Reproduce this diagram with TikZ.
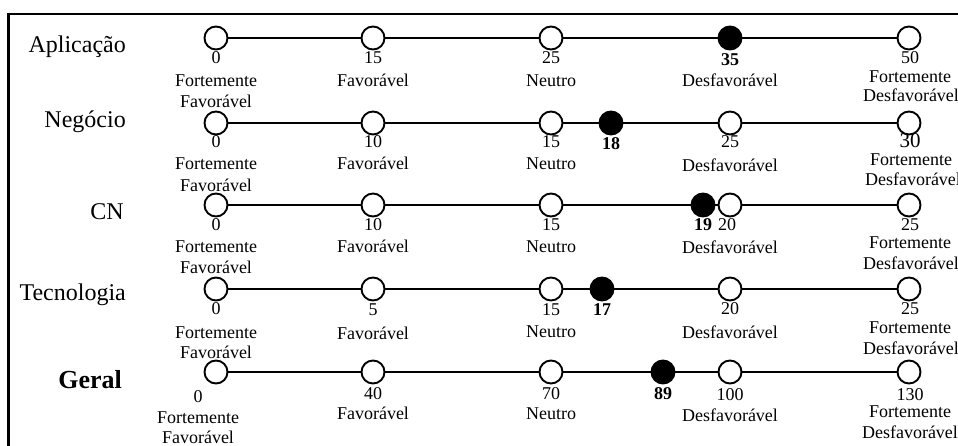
\documentclass[tikz,border=0pt]{standalone}
\usepackage{fontspec}
\setmainfont{Liberation Serif}
\begin{document}
\begin{tikzpicture}[x=1pt,y=-1pt,
  pt/.style={circle, draw, line width=1.9pt, minimum size=23pt, inner sep=0pt, fill=white},
  hit/.style={pt, fill=black},
  conn/.style={line width=2.1pt},
  lab/.style={font=\fontsize{18}{18}\selectfont, anchor=base, inner sep=0pt},
  blab/.style={lab, font=\fontsize{18}{18}\selectfont\bfseries},
  rowlab/.style={font=\fontsize{24}{24}\selectfont, anchor=base east, inner sep=0pt},
  frame/.style={line width=2.2pt}]
\clip (0,0) rectangle (958,446);
\fill[white] (0,0) rectangle (958,446);
% frame
\coordinate (fb) at (8.5,470);
\coordinate (ftl) at (8.5,14);
\coordinate (fr) at (980,14);
\draw[frame] (fb) -- (ftl) -- (fr);

% row labels
\node[rowlab] (lA) at (126,53) {Aplicação};
\node[rowlab] (lN) at (126,128) {Negócio};
\node[rowlab] (lC) at (124,220) {CN};
\node[rowlab] (lT) at (126,301) {Tecnologia};
\node[rowlab, font=\fontsize{26}{26}\selectfont\bfseries] (lG) at (122,388) {Geral};

% ---- Aplicacao (y=38)
\node[pt] (a0) at (216,38) {};
\node[pt] (a1) at (373,38) {};
\node[pt] (a2) at (551,38) {};
\node[hit] (a3) at (730,38) {};
\node[pt] (a4) at (909,38) {};
\draw[conn] (a0) -- (a1) (a1) -- (a2) (a2) -- (a3) (a3) -- (a4);
\node[lab] (a0n) at (216,64) {0};
\node[lab] (a0d) at (216,87) {Fortemente};
\node[lab] (a0e) at (216,108) {Favorável};
\node[lab] (a1n) at (373,64) {15};
\node[lab] (a1d) at (373,87) {Favorável};
\node[lab] (a2n) at (551,64) {25};
\node[lab] (a2d) at (551,87) {Neutro};
\node[blab] (a3n) at (730,66) {35};
\node[lab] (a3d) at (730,87) {Desfavorável};
\node[lab] (a4n) at (910,64) {50};
\node[lab] (a4d) at (910,83) {Fortemente};
\node[lab] (a4e) at (911,102) {Desfavorável};

% ---- Negocio (y=123)
\node[pt] (n0) at (216,123) {};
\node[pt] (n1) at (373,123) {};
\node[pt] (n2) at (551,123) {};
\node[hit] (n3) at (611,123) {};
\node[pt] (n4) at (730,123) {};
\node[pt] (n5) at (909,123) {};
\draw[conn] (n0) -- (n1) (n1) -- (n2) (n2) -- (n3) (n3) -- (n4) (n4) -- (n5);
\node[lab] (n0n) at (216,148) {0};
\node[lab] (n0d) at (216,170) {Fortemente};
\node[lab] (n0e) at (216,192) {Favorável};
\node[lab] (n1n) at (373,148) {10};
\node[lab] (n1d) at (373,170) {Favorável};
\node[lab] (n2n) at (551,148) {15};
\node[lab] (n2d) at (551,170) {Neutro};
\node[blab] (n3n) at (611,150) {18};
\node[lab] (n4n) at (730,148) {25};
\node[lab] (n4d) at (730,172) {Desfavorável};
\node[lab, font=\fontsize{21}{21}\selectfont] (n5n) at (910,148) {30};
\node[lab] (n5d) at (911,166) {Fortemente};
\node[lab] (n5e) at (913,186) {Desfavorável};

% ---- CN (y=205)
\node[pt] (c0) at (216,205) {};
\node[pt] (c1) at (373,205) {};
\node[pt] (c2) at (551,205) {};
\node[hit] (c3) at (703,205) {};
\node[pt] (c4) at (730,205) {};
\node[pt] (c5) at (909,205) {};
\draw[conn] (c0) -- (c1) (c1) -- (c2) (c2) -- (c3) (c3) -- (c4) (c4) -- (c5);
\node[lab] (c0n) at (216,231) {0};
\node[lab] (c0d) at (216,253) {Fortemente};
\node[lab] (c0e) at (216,274) {Favorável};
\node[lab] (c1n) at (373,231) {10};
\node[lab] (c1d) at (373,253) {Favorável};
\node[lab] (c2n) at (551,231) {15};
\node[lab] (c2d) at (551,253) {Neutro};
\node[blab] (c3n) at (703,231) {19};
\node[lab] (c4n) at (727,231) {20};
\node[lab] (c4d) at (730,254) {Desfavorável};
\node[lab] (c5n) at (910,231) {25};
\node[lab] (c5d) at (910,249) {Fortemente};
\node[lab] (c5e) at (911,270) {Desfavorável};

% ---- Tecnologia (y=289)
\node[pt] (t0) at (216,289) {};
\node[pt] (t1) at (373,289) {};
\node[pt] (t2) at (551,289) {};
\node[hit] (t3) at (602,289) {};
\node[pt] (t4) at (730,289) {};
\node[pt] (t5) at (909,289) {};
\draw[conn] (t0) -- (t1) (t1) -- (t2) (t2) -- (t3) (t3) -- (t4) (t4) -- (t5);
\node[lab] (t0n) at (216,314) {0};
\node[lab] (t0d) at (216,338) {Fortemente};
\node[lab] (t0e) at (216,358) {Favorável};
\node[lab] (t1n) at (373,315) {5};
\node[lab] (t1d) at (373,339) {Favorável};
\node[lab] (t2n) at (551,315) {15};
\node[lab] (t2d) at (551,337) {Neutro};
\node[blab] (t3n) at (602,315) {17};
\node[lab] (t4n) at (730,314) {20};
\node[lab] (t4d) at (730,338) {Desfavorável};
\node[lab] (t5n) at (910,314) {25};
\node[lab] (t5d) at (910,333) {Fortemente};
\node[lab] (t5e) at (911,354) {Desfavorável};

% ---- Geral (y=372)
\node[pt] (g0) at (216,372) {};
\node[pt] (g1) at (373,372) {};
\node[pt] (g2) at (551,372) {};
\node[hit] (g3) at (663,372) {};
\node[pt] (g4) at (730,372) {};
\node[pt] (g5) at (909,372) {};
\draw[conn] (g0) -- (g1) (g1) -- (g2) (g2) -- (g3) (g3) -- (g4) (g4) -- (g5);
\node[lab] (g0n) at (198,402) {0};
\node[lab] (g0d) at (198,423) {Fortemente};
\node[lab] (g0e) at (198,443) {Favorável};
\node[lab] (g1n) at (373,399) {40};
\node[lab] (g1d) at (373,419) {Favorável};
\node[lab] (g2n) at (551,399) {70};
\node[lab] (g2d) at (551,419) {Neutro};
\node[blab] (g3n) at (663,399) {89};
\node[lab] (g4n) at (730,400) {100};
\node[lab] (g4d) at (730,421) {Desfavorável};
\node[lab] (g5n) at (910,400) {130};
\node[lab] (g5d) at (910,417) {Fortemente};
\node[lab] (g5e) at (910,438) {Desfavorável};
\end{tikzpicture}
\end{document}
